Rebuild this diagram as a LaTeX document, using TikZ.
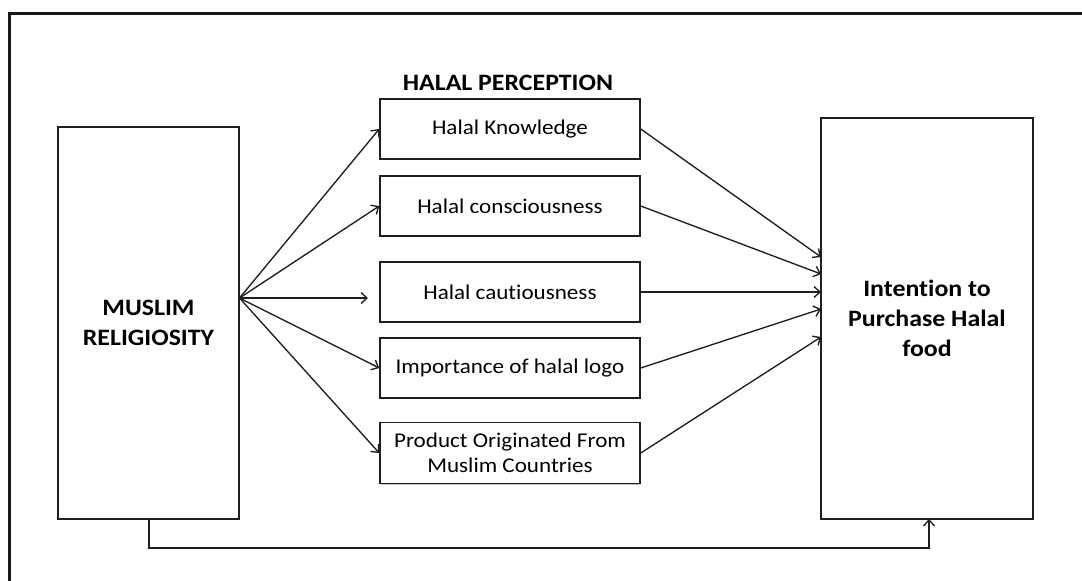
\documentclass[tikz,border=0pt]{standalone}
\usepackage{fontspec}
\setmainfont{Carlito}[FakeStretch=1.1,Ligatures=NoCommon]
\usetikzlibrary{arrows.meta,shadows}
\begin{document}
\begin{tikzpicture}[x=1pt,y=-1pt,
  box/.style={draw=black!88,line width=1.5pt,fill=white,rectangle,inner sep=0pt,
    align=center,font=\fontsize{21}{25}\selectfont,
    drop shadow={shadow xshift=1.2pt,shadow yshift=-1.2pt,opacity=0.25,fill=black}},
  bigbox/.style={box,font=\bfseries\fontsize{23.5}{30}\selectfont},
  medbox/.style={box,minimum width=260pt,minimum height=60pt},
  arr/.style={draw=black!88,line width=1.35pt,-{Straight Barb[length=6pt,width=11pt,line width=1.35pt]}}
]
\useasboundingbox (0,0) rectangle (1082,581);
% outer frame (continues past the right and bottom edges)
\draw[line width=3pt,black!90] (9,13) rectangle (1100,600);

% main constructs
\node[bigbox,minimum width=181pt,minimum height=392pt] (rel) at (148.5,323) {MUSLIM\\RELIGIOSITY};
\node[bigbox,minimum width=212pt,minimum height=401pt] (int) at (927,318.5) {Intention to\\Purchase Halal\\food};

% halal perception dimensions
\node[font=\bfseries\fontsize{23.5}{30}\selectfont] (title) at (508,83) {HALAL PERCEPTION};
\node[medbox] (m1) at (510,129) {Halal Knowledge};
\node[medbox] (m2) at (510,206) {Halal consciousness};
\node[medbox] (m3) at (510,292) {Halal cautiousness};
\node[medbox] (m4) at (510,368) {Importance of halal logo};
\node[medbox,minimum height=61pt] (m5) at (510,453) {Product Originated From\\Muslim Countries};

% fan-out from religiosity
\coordinate (src) at (239.5,298);
\coordinate (m3in) at (368,298);
\draw[arr] (src) -- (m1.west);
\draw[arr] (src) -- (m2.west);
\draw[arr] (src) -- (m3in);
\draw[arr] (src) -- (m4.west);
\draw[arr] (src) -- (m5.west);

% fan-in to purchase intention
\coordinate (t1) at (821,257);
\coordinate (t2) at (821,274);
\coordinate (t3) at (821,292);
\coordinate (t4) at (821,309);
\coordinate (t5) at (821,337);
\draw[arr] (m1.east) -- (t1);
\draw[arr] (m2.east) -- (t2);
\draw[arr] (m3.east) -- (t3);
\draw[arr] (m4.east) -- (t4);
\draw[arr] (m5.east) -- (t5);

% direct path
\coordinate (d1) at (149,519);
\coordinate (d2) at (929,519);
\draw[arr] (d1) -- (149,548) -| (d2);
\end{tikzpicture}
\end{document}
